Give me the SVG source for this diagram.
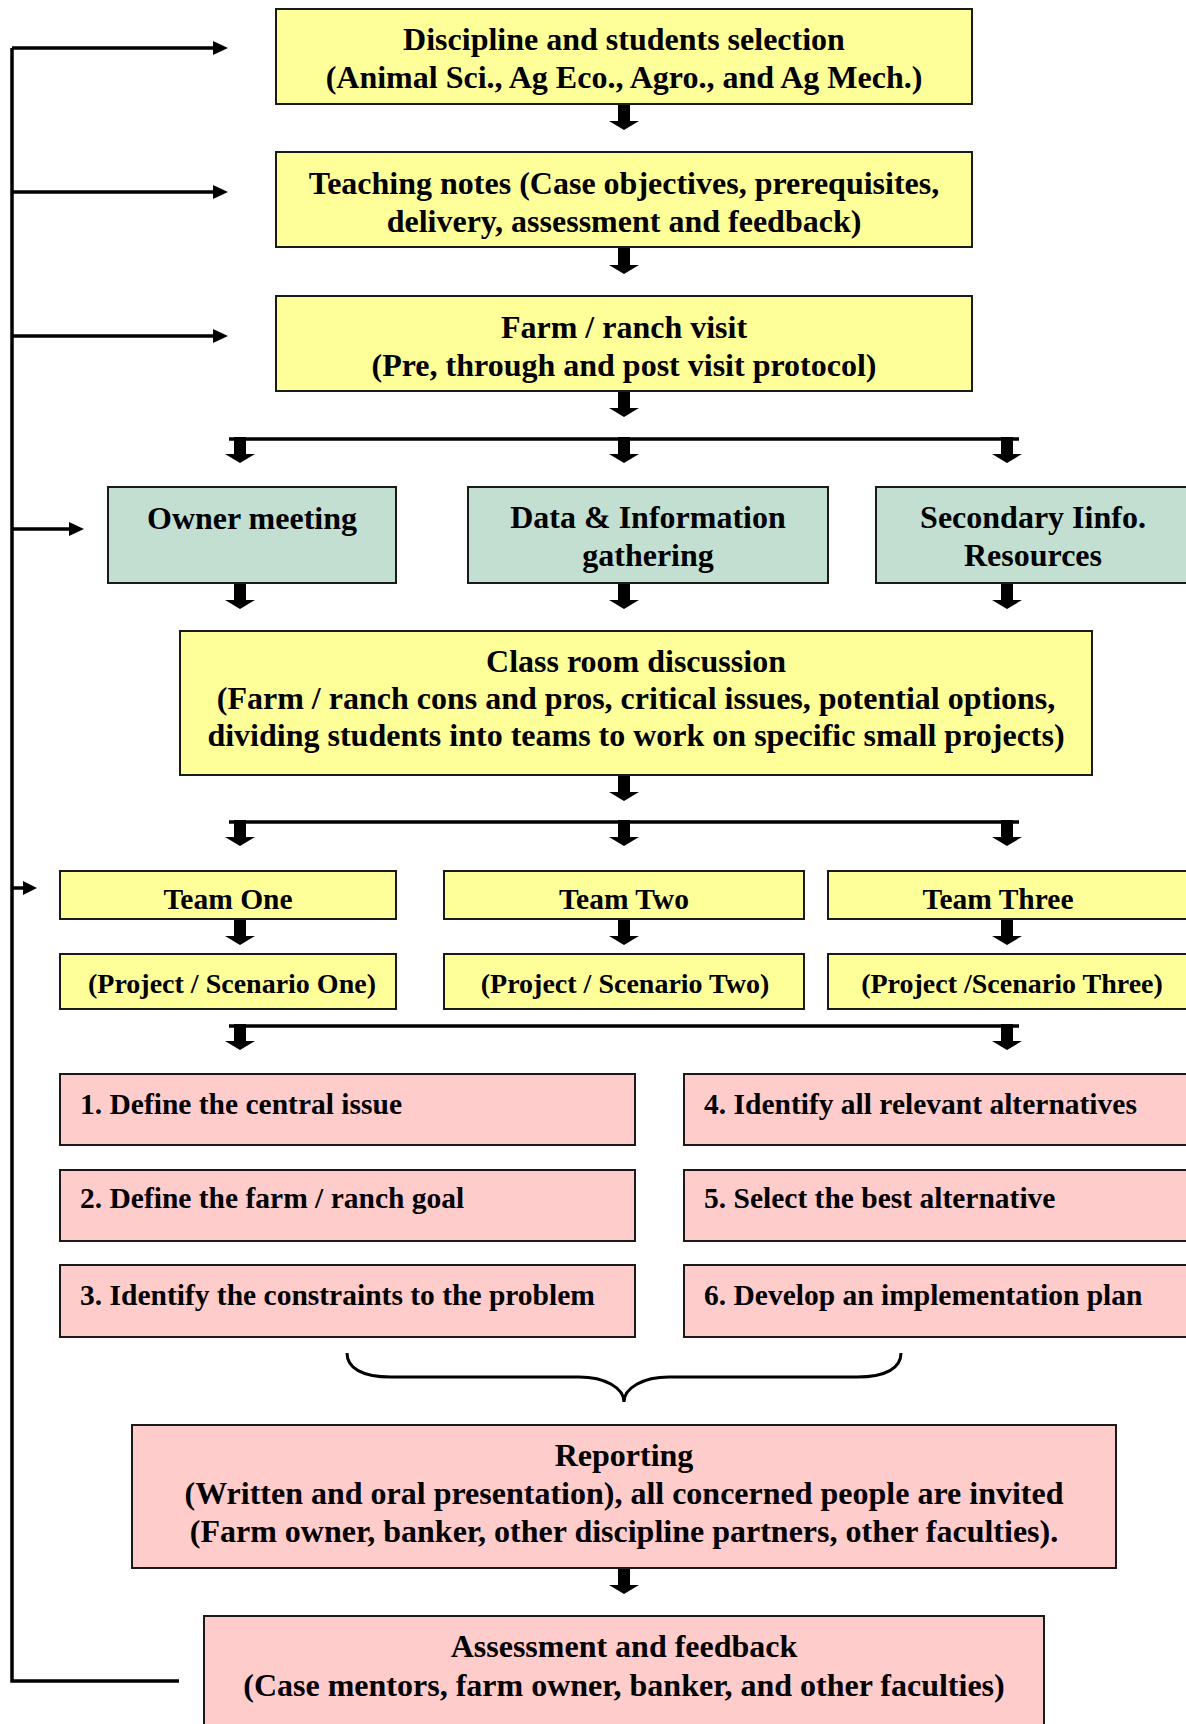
<svg xmlns="http://www.w3.org/2000/svg" xmlns:xlink="http://www.w3.org/1999/xlink" width="1186" height="1724" viewBox="0 0 1186 1724">
<style>
.y{fill:#FFFF99;stroke:#1a1a1a;stroke-width:2}
.g{fill:#C3DFD2;stroke:#1a1a1a;stroke-width:2}
.p{fill:#FFCCCC;stroke:#1a1a1a;stroke-width:2}
text{font-family:"Liberation Serif","Times New Roman",serif;font-weight:bold;font-size:32px;fill:#000}
.c{text-anchor:middle}
.s{font-size:29.5px}
.t{font-size:28px}
.ln{stroke:#000;stroke-width:3.5;fill:none}
</style>
<defs>
<path id="ba" d="M-6,0 H6 V17 H15 L0,26 L-15,17 H-6 Z" fill="#000"/>
</defs>
<rect width="1186" height="1724" fill="#fff"/>

<g id="connectors">
<path class="ln" d="M12,48 V1681 H179"/>
<path d="M12,48 H214" class="ln"/><path d="M213,41 L228,48 L213,55 Z"/>
<path d="M12,192 H214" class="ln"/><path d="M213,185 L228,192 L213,199 Z"/>
<path d="M12,336 H214" class="ln"/><path d="M213,329 L228,336 L213,343 Z"/>
<path d="M12,529 H70" class="ln"/><path d="M69,522 L84,529 L69,536 Z"/>
<path d="M12,888 H24" class="ln"/><path d="M23,881 L37,888 L23,895 Z"/>
<use xlink:href="#ba" x="624" y="104"/>
<use xlink:href="#ba" x="624" y="248"/>
<use xlink:href="#ba" x="624" y="391"/>
<path class="ln" d="M229,439 H1019"/>
<use xlink:href="#ba" x="240" y="437"/>
<use xlink:href="#ba" x="624" y="437"/>
<use xlink:href="#ba" x="1007" y="437"/>
<use xlink:href="#ba" x="240" y="583"/>
<use xlink:href="#ba" x="624" y="583"/>
<use xlink:href="#ba" x="1007" y="583"/>
<use xlink:href="#ba" x="624" y="775"/>
<path class="ln" d="M229,822 H1019"/>
<use xlink:href="#ba" x="240" y="820"/>
<use xlink:href="#ba" x="624" y="820"/>
<use xlink:href="#ba" x="1007" y="820"/>
<use xlink:href="#ba" x="240" y="919"/>
<use xlink:href="#ba" x="624" y="919"/>
<use xlink:href="#ba" x="1007" y="919"/>
<path class="ln" d="M229,1026 H1019"/>
<use xlink:href="#ba" x="240" y="1024"/>
<use xlink:href="#ba" x="1007" y="1024"/>
<path d="M347,1353 C347,1368 362,1377 391,1377 H579 C605,1377 624,1388 624,1402 C624,1388 643,1377 669,1377 H857 C886,1377 901,1368 901,1353" stroke="#000" stroke-width="3" fill="none"/>
<use xlink:href="#ba" x="624" y="1568"/>
</g>

<g id="n1"><rect class="y" x="276" y="9" width="696" height="95"/>
<text class="c" x="624" y="50">Discipline and students selection</text>
<text class="c" x="624" y="88">(Animal Sci., Ag Eco., Agro., and Ag Mech.)</text></g>

<g id="n2"><rect class="y" x="276" y="152" width="696" height="95"/>
<text class="c" x="624" y="194">Teaching notes (Case objectives, prerequisites,</text>
<text class="c" x="624" y="232">delivery, assessment and feedback)</text></g>

<g id="n3"><rect class="y" x="276" y="296" width="696" height="95"/>
<text class="c" x="624" y="338">Farm / ranch visit</text>
<text class="c" x="624" y="376">(Pre, through and post visit protocol)</text></g>

<g id="n4"><rect class="g" x="108" y="487" width="288" height="96"/>
<text class="c" x="252" y="529">Owner meeting</text></g>

<g id="n5"><rect class="g" x="468" y="487" width="360" height="96"/>
<text class="c" x="648" y="528">Data &amp; Information</text>
<text class="c" x="648" y="566">gathering</text></g>

<g id="n6"><rect class="g" x="876" y="487" width="316" height="96"/>
<text class="c" x="1033" y="528">Secondary Iinfo.</text>
<text class="c" x="1033" y="566">Resources</text></g>

<g id="n7"><rect class="y" x="180" y="631" width="912" height="144"/>
<text class="c" x="636" y="672">Class room discussion</text>
<text class="c" x="636" y="709">(Farm / ranch cons and pros, critical issues, potential options,</text>
<text class="c" x="636" y="746">dividing students into teams to work on specific small projects)</text></g>

<g id="n8"><rect class="y" x="60" y="871" width="336" height="48"/>
<text class="c s" x="228" y="909">Team One</text></g>
<g id="n9"><rect class="y" x="444" y="871" width="360" height="48"/>
<text class="c s" x="624" y="909">Team Two</text></g>
<g id="n10"><rect class="y" x="828" y="871" width="364" height="48"/>
<text class="c s" x="998" y="909">Team Three</text></g>

<g id="n11"><rect class="y" x="60" y="954" width="336" height="55"/>
<text class="c t" x="232" y="993">(Project / Scenario One)</text></g>
<g id="n12"><rect class="y" x="444" y="954" width="360" height="55"/>
<text class="c t" x="625" y="993">(Project / Scenario Two)</text></g>
<g id="n13"><rect class="y" x="828" y="954" width="364" height="55"/>
<text class="c t" x="1012" y="993">(Project /Scenario Three)</text></g>

<g id="n14"><rect class="p" x="60" y="1074" width="575" height="71"/>
<text class="s" x="80" y="1114">1. Define the central issue</text></g>
<g id="n15"><rect class="p" x="60" y="1170" width="575" height="71"/>
<text class="s" x="80" y="1208">2. Define the farm / ranch goal</text></g>
<g id="n16"><rect class="p" x="60" y="1265" width="575" height="72"/>
<text class="s" x="80" y="1305">3. Identify the constraints to the problem</text></g>
<g id="n17"><rect class="p" x="684" y="1074" width="508" height="71"/>
<text class="s" x="704" y="1114">4. Identify all relevant alternatives</text></g>
<g id="n18"><rect class="p" x="684" y="1170" width="508" height="71"/>
<text class="s" x="704" y="1208">5. Select the best alternative</text></g>
<g id="n19"><rect class="p" x="684" y="1265" width="508" height="72"/>
<text class="s" x="704" y="1305">6. Develop an implementation plan</text></g>

<g id="n20"><rect class="p" x="132" y="1425" width="984" height="143"/>
<text class="c" x="624" y="1466">Reporting</text>
<text class="c" x="624" y="1504">(Written and oral presentation), all concerned people are invited</text>
<text class="c" x="624" y="1542">(Farm owner, banker, other discipline partners, other faculties).</text></g>

<g id="n21"><rect class="p" x="204" y="1616" width="840" height="120"/>
<text class="c" x="624" y="1657">Assessment and feedback</text>
<text class="c" x="624" y="1696">(Case mentors, farm owner, banker, and other faculties)</text></g>
</svg>
